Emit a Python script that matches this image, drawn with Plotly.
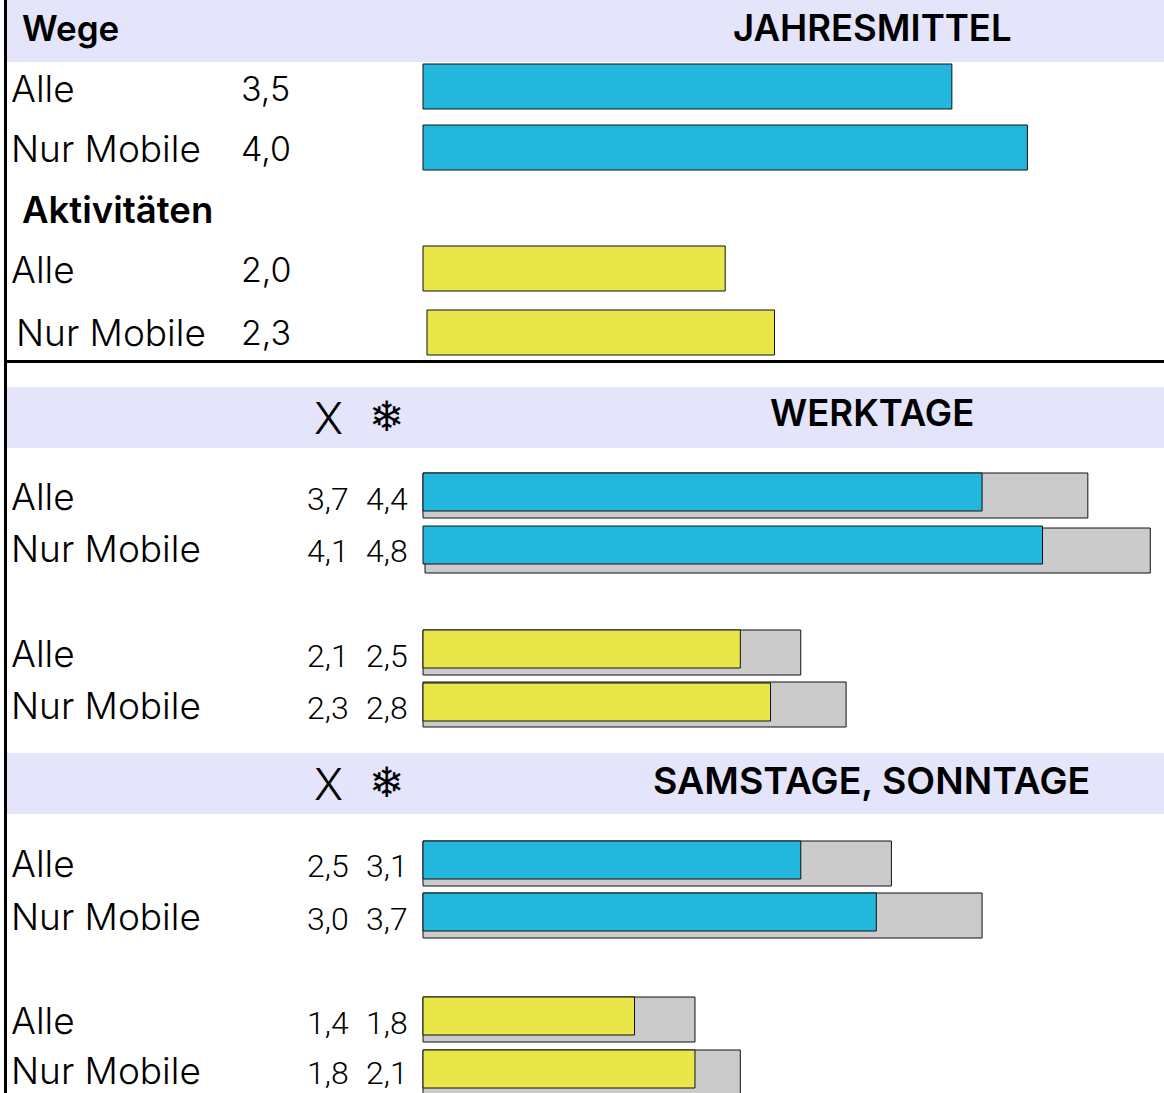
import plotly.graph_objects as go

W, H = 1164, 1093
ROW_LABELS = ["Alle", "Nur Mobile"]

# Data values
jahres_wege = [3.5, 4.0]
jahres_akt = [2.0, 2.3]
werk_wege_x = [3.7, 4.1]
werk_wege_snow = [4.4, 4.8]
werk_akt_x = [2.1, 2.3]
werk_akt_snow = [2.5, 2.8]
wochenende_wege_x = [2.5, 3.0]
wochenende_wege_snow = [3.1, 3.7]
wochenende_akt_x = [1.4, 1.8]
wochenende_akt_snow = [1.8, 2.1]

BLUE, YELLOW, GRAY = "#23B7DD", "#E9E649", "#CBCBCB"
LAV = "#E4E4FB"
LIGHT = "Inter"
NUM = "Roboto"
PX = 151.1
X0 = 423


def fmt(v):
    return f"{v:.1f}".replace(".", ",")


fig = go.Figure()


def bars(vals, tops, height, color, bases=(0, 0)):
    fig.add_trace(go.Bar(
        x=vals, y=[t + height / 2 for t in tops], base=list(bases), width=height,
        orientation="h", marker=dict(color=color, line=dict(color="#111", width=1)),
        hoverinfo="skip", showlegend=False))


# grey bars below coloured ones
bars(werk_wege_snow, [473, 528], 45, GRAY, (0, 2 / PX))
bars(werk_akt_snow, [630, 682], 45, GRAY)
bars(wochenende_wege_snow, [841, 893], 45, GRAY)
bars(wochenende_akt_snow, [997, 1050], 45, GRAY)
# coloured bars
bars(jahres_wege, [64, 125], 45, BLUE)
bars(jahres_akt, [246, 310], 45, YELLOW, (0, 4 / PX))
bars(werk_wege_x, [473, 526], 38, BLUE)
bars(werk_akt_x, [630, 683], 38, YELLOW)
bars(wochenende_wege_x, [841, 893], 38, BLUE)
bars(wochenende_akt_x, [997, 1050], 38, YELLOW)

shapes = []
for top, bottom in [(0, 62), (387, 448), (753, 814)]:
    shapes.append(dict(type="rect", xref="paper", yref="y", x0=7 / W, x1=1, y0=top, y1=bottom,
                       fillcolor=LAV, line_width=0, layer="below"))
shapes.append(dict(type="line", xref="paper", yref="y", x0=5.5 / W, x1=5.5 / W, y0=0, y1=H,
                   line=dict(color="#000", width=3)))
shapes.append(dict(type="line", xref="paper", yref="y", x0=6 / W, x1=1, y0=361.5, y1=361.5,
                   line=dict(color="#000", width=3)))

ann = []


def txt(s, x, y, size, family=LIGHT, weight=300):
    f = dict(family=family, size=size, color="#000", weight=weight)
    ann.append(dict(text=s, x=x / W, y=y, xref="paper", yref="y", xanchor="left", yanchor="middle",
                    showarrow=False, font=f, borderpad=0, borderwidth=0))


txt("Wege", 22, 28, 35, weight=600)
txt("JAHRESMITTEL", 733, 28, 36.5, weight=600)
txt("Aktivitäten", 22, 210, 36.5, weight=600)
txt("WERKTAGE", 770, 413, 36.5, weight=600)
txt("SAMSTAGE, SONNTAGE", 653, 780, 37.5, weight=600)
for y in (418, 784):
    txt("X", 314, y, 44)
    txt("❄", 369, y - 2, 42, family="DejaVu Sans", weight=400)

for ys, vals in [((88, 148), jahres_wege), ((269, 332), jahres_akt)]:
    for i, (y, v) in enumerate(zip(ys, vals)):
        lx = 16 if (ys[0] == 269 and i == 1) else 11
        txt(ROW_LABELS[i], lx, y, 37)
        txt(fmt(v), 241, y, 34)

for ys, a, b in [((496, 548), werk_wege_x, werk_wege_snow),
                 ((653, 705), werk_akt_x, werk_akt_snow),
                 ((863, 916), wochenende_wege_x, wochenende_wege_snow),
                 ((1020, 1070), wochenende_akt_x, wochenende_akt_snow)]:
    for i, y in enumerate(ys):
        txt(ROW_LABELS[i], 11, y, 37)
        txt(fmt(a[i]), 307, y + 3, 32, family=NUM)
        txt(fmt(b[i]), 366, y + 3, 32, family=NUM)

fig.update_layout(
    width=W, height=H, margin=dict(l=0, r=0, t=0, b=0), barmode="overlay",
    paper_bgcolor="white", plot_bgcolor="white", shapes=shapes, annotations=ann,
    xaxis=dict(range=[-X0 / PX, (W - X0) / PX], visible=False, fixedrange=True),
    yaxis=dict(range=[H, 0], visible=False, fixedrange=True),
)
fig.write_html("out.html", config=dict(displayModeBar=False),
               post_script="document.body.style.margin='0';document.body.style.overflow='hidden';")
